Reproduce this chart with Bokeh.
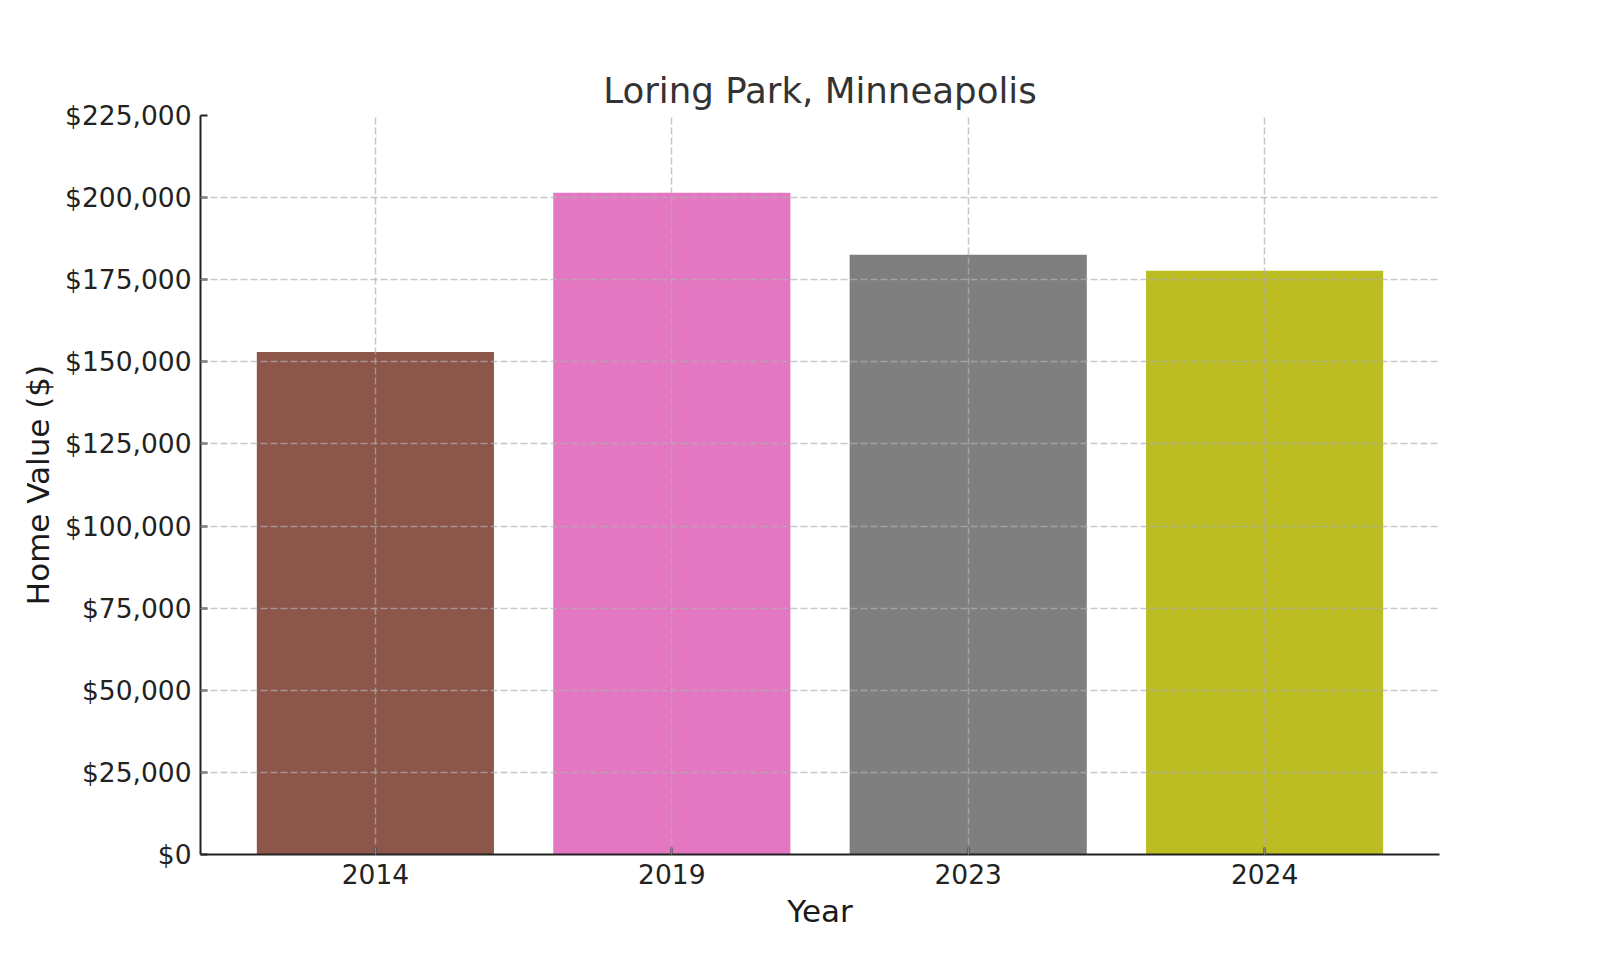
from bokeh.plotting import figure
from bokeh.models import Range1d, FixedTicker, NumeralTickFormatter, ColumnDataSource
from bokeh.embed import file_html
from bokeh.resources import INLINE

# ---- data ----
years = ["2014", "2019", "2023", "2024"]
home_values = [153000, 201500, 182600, 177700]
bar_colors = ["#8c564b", "#e377c2", "#7f7f7f", "#bcbd22"]
y_ticks = [0, 25000, 50000, 75000, 100000, 125000, 150000, 175000, 200000, 225000]

positions = list(range(len(years)))
src = ColumnDataSource(dict(x=positions, top=home_values, color=bar_colors, year=years))

FONT = "DejaVu Sans"

p = figure(
    frame_width=1239, frame_height=739,
    min_border_left=200, min_border_right=145, min_border_top=115, min_border_bottom=90,
    x_range=Range1d(-0.59, len(years) - 1 + 0.59),
    y_range=Range1d(0, 225000),
    output_backend="svg", toolbar_location=None,
    title="Loring Park, Minneapolis",
)
p.outline_line_color = None
p.background_fill_color = "white"
p.border_fill_color = "white"

p.vbar(x="x", top="top", width=0.8, color="color", source=src, line_color=None)

# title
p.title.text_font = FONT
p.title.text_font_size = "35.6px"
p.title.text_font_style = "normal"
p.title.text_color = "#333333"
p.title.align = "center"
p.title.standoff = 10

# axes
for ax in (p.xaxis[0], p.yaxis[0]):
    ax.axis_line_width = 2
    ax.axis_line_color = "#222222"
    ax.major_tick_line_width = 2
    ax.major_tick_line_color = "#222222"
    ax.major_tick_in = 7
    ax.major_tick_out = 0
    ax.minor_tick_line_color = None
    ax.major_label_text_font = FONT
    ax.major_label_text_font_size = "26.5px"
    ax.major_label_text_color = "#222222"
    ax.axis_label_text_font = FONT
    ax.axis_label_text_font_size = "31px"
    ax.axis_label_text_font_style = "normal"
    ax.axis_label_text_color = "#1a1a1a"
    ax.major_label_standoff = 9

p.xaxis[0].axis_label_standoff = 6
p.yaxis[0].axis_label_standoff = 6

p.xaxis.ticker = FixedTicker(ticks=positions)
p.xaxis.major_label_overrides = {i: y for i, y in zip(positions, years)}
p.xaxis.axis_label = "Year"
p.yaxis.ticker = FixedTicker(ticks=y_ticks)
p.yaxis.formatter = NumeralTickFormatter(format="$0,0")
p.yaxis.axis_label = "Home Value ($)"

# grid (drawn over the bars, dashed)
for g in (p.xgrid[0], p.ygrid[0]):
    g.grid_line_color = "#b0b0b0"
    g.grid_line_alpha = 0.7
    g.grid_line_dash = "7 3"
    g.grid_line_width = 1.5
    g.level = "overlay"

open("out.html", "w").write(file_html(p, INLINE))
